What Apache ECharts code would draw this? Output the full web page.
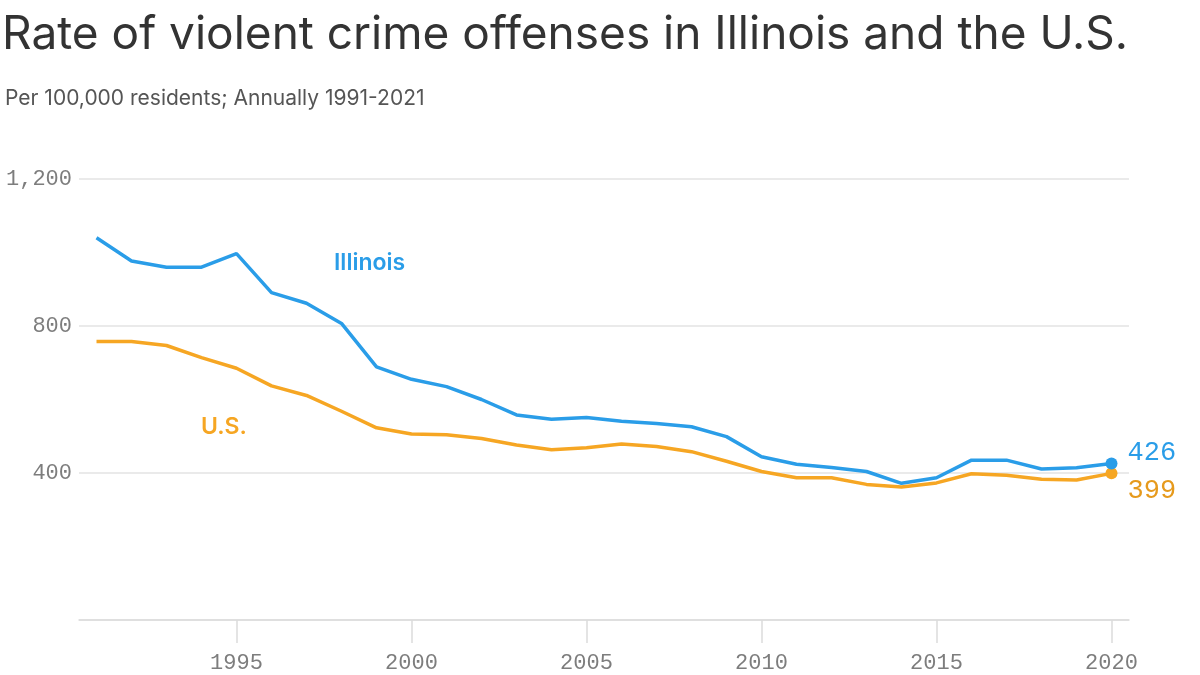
<!DOCTYPE html>
<html>
<head>
<meta charset="utf-8">
<script src="https://cdn.jsdelivr.net/npm/echarts@6/dist/echarts.min.js"></script>
<style>
  html, body { margin: 0; padding: 0; background: #fff; }
  #chart { width: 1200px; height: 675px; }
</style>
</head>
<body>
<div id="chart"></div>
<script>
var years = ['1991', '1992', '1993', '1994', '1995', '1996', '1997', '1998', '1999', '2000',
             '2001', '2002', '2003', '2004', '2005', '2006', '2007', '2008', '2009', '2010',
             '2011', '2012', '2013', '2014', '2015', '2016', '2017', '2018', '2019', '2020'];
var illinois = [1040, 977, 960, 960, 997, 891, 862, 807, 689, 655,
                635, 600, 558, 546, 551, 541, 535, 526, 499, 444,
                424, 415, 404, 372, 387, 435, 435, 411, 414, 426];
var us = [758, 758, 747, 714, 685, 637, 611, 568, 523, 506,
          504, 494, 476, 463, 469, 479, 472, 458, 432, 404,
          387, 387, 369, 362, 373, 398, 394, 383, 381, 399];
var yTicks = [0, 400, 800, 1200];

var blue = '#2a9de8';
var orange = '#f6a623';
var monoFont = '"Liberation Mono", "DejaVu Sans Mono", monospace';
var sansFont = 'Inter, "Noto Sans", sans-serif';

function lastDot(value, params) {
    return params.dataIndex === years.length - 1 ? 12 : 0;
}

function everyFive(index, value) {
    return Number(value) % 5 === 0;
}

var dom = document.getElementById('chart');
var myChart = echarts.init(dom);

var option = {
    backgroundColor: '#fff',
    animation: false,
    title: [
        {
            text: 'Rate of violent crime offenses in Illinois and the U.S.',
            left: -3,
            top: 7,
            textStyle: {
                color: '#333',
                fontFamily: sansFont,
                fontWeight: 400,
                fontSize: 46
            }
        },
        {
            text: 'Per 100,000 residents; Annually 1991-2021',
            left: 0,
            top: 83,
            textStyle: {
                color: '#555',
                fontFamily: sansFont,
                fontWeight: 400,
                fontSize: 21
            }
        }
    ],
    grid: {
        left: 79,
        right: 71,
        top: 179,
        bottom: 55
    },
    xAxis: {
        type: 'category',
        data: years,
        boundaryGap: true,
        axisLine: {
            show: true,
            lineStyle: { color: '#dcdcdc', width: 1.5 }
        },
        axisTick: {
            show: true,
            alignWithLabel: true,
            interval: everyFive,
            length: 23,
            lineStyle: { color: '#dcdcdc', width: 1.5 }
        },
        axisLabel: {
            interval: everyFive,
            margin: 32,
            color: '#7d7d7d',
            fontFamily: monoFont,
            fontSize: 22
        },
        splitLine: { show: false }
    },
    yAxis: {
        type: 'value',
        min: yTicks[0],
        max: yTicks[yTicks.length - 1],
        interval: 400,
        axisLine: { show: false },
        axisTick: { show: false },
        axisLabel: {
            margin: 7,
            color: '#7d7d7d',
            fontFamily: monoFont,
            fontSize: 22,
            formatter: function (v) {
                return v === 0 ? '' : v.toLocaleString('en-US');
            }
        },
        splitLine: {
            show: true,
            lineStyle: { color: '#e3e3e3', width: 1.5 }
        }
    },
    series: [
        {
            name: 'Illinois',
            type: 'line',
            data: illinois,
            symbol: 'circle',
            symbolSize: lastDot,
            showAllSymbol: true,
            lineStyle: { color: blue, width: 3.5 },
            itemStyle: { color: blue },
            endLabel: {
                show: true,
                distance: 16,
                offset: [0, -11],
                color: blue,
                fontFamily: monoFont,
                fontSize: 27,
                formatter: '{c}'
            },
            z: 3
        },
        {
            name: 'U.S.',
            type: 'line',
            data: us,
            symbol: 'circle',
            symbolSize: lastDot,
            showAllSymbol: true,
            lineStyle: { color: orange, width: 3.5 },
            itemStyle: { color: orange },
            endLabel: {
                show: true,
                distance: 16,
                offset: [0, 17],
                color: '#e69a1c',
                fontFamily: monoFont,
                fontSize: 27,
                formatter: '{c}'
            },
            z: 2
        }
    ],
    graphic: [
        {
            type: 'text',
            left: 334,
            top: 252,
            style: {
                text: 'Illinois',
                fill: blue,
                font: '600 23px ' + sansFont
            }
        },
        {
            type: 'text',
            left: 201,
            top: 416,
            style: {
                text: 'U.S.',
                fill: orange,
                font: '600 23px ' + sansFont
            }
        }
    ]
};

myChart.setOption(option, true);
window.onresize = myChart.resize;
</script>
</body>
</html>
